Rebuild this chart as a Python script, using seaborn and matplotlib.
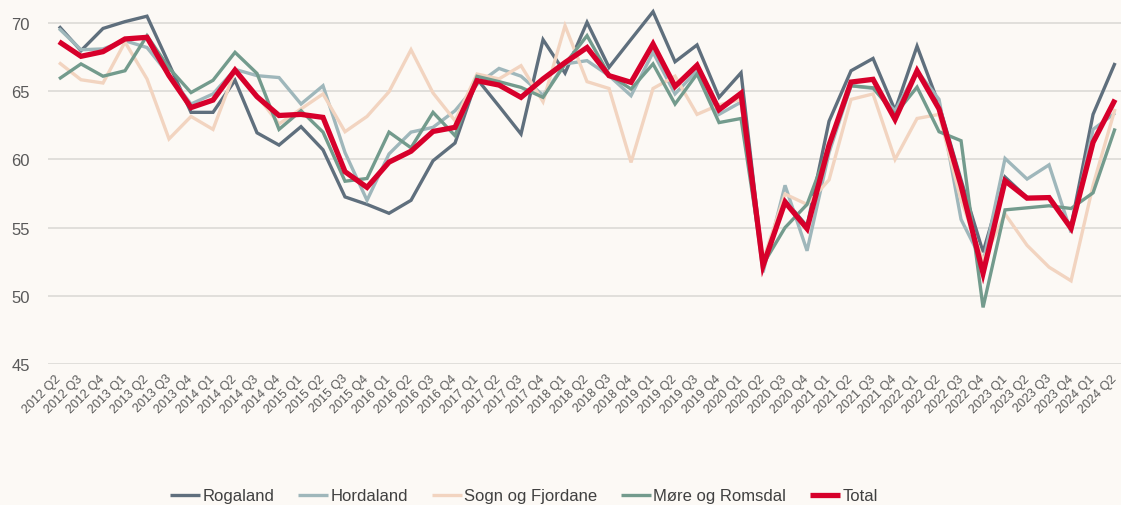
import matplotlib
matplotlib.use("Agg")
import matplotlib.pyplot as plt
import matplotlib.transforms as mtransforms
import seaborn as sns
import pandas as pd

quarters = [
    "2012 Q2", "2012 Q3", "2012 Q4",
    "2013 Q1", "2013 Q2", "2013 Q3", "2013 Q4",
    "2014 Q1", "2014 Q2", "2014 Q3", "2014 Q4",
    "2015 Q1", "2015 Q2", "2015 Q3", "2015 Q4",
    "2016 Q1", "2016 Q2", "2016 Q3", "2016 Q4",
    "2017 Q1", "2017 Q2", "2017 Q3", "2017 Q4",
    "2018 Q1", "2018 Q2", "2018 Q3", "2018 Q4",
    "2019 Q1", "2019 Q2", "2019 Q3", "2019 Q4",
    "2020 Q1", "2020 Q2", "2020 Q3", "2020 Q4",
    "2021 Q1", "2021 Q2", "2021 Q3", "2021 Q4",
    "2022 Q1", "2022 Q2", "2022 Q3", "2022 Q4",
    "2023 Q1", "2023 Q2", "2023 Q3", "2023 Q4",
    "2024 Q1", "2024 Q2",
]

rogaland = [69.76, 67.97, 69.6, 70.1, 70.5, 67.0, 63.45, 63.45, 65.8, 61.95,
            61.05, 62.4, 60.7, 57.25, 56.7, 56.05, 57.0, 59.9, 61.2, 65.9,
            63.9, 61.86, 68.78, 66.33, 70.05, 66.75, 68.8, 70.83, 67.16, 68.39,
            64.55, 66.35, 52.3, 57.0, 55.1, 62.8, 66.5, 67.4, 63.6, 68.3,
            64.0, 58.5, 53.2, 58.7, 57.2, 57.2, 55.1, 63.3, 67.07]

hordaland = [69.6, 68.04, 68.1, 68.7, 68.2, 66.2, 64.06, 64.8, 66.6, 66.14,
             66.0, 64.06, 65.4, 60.5, 57.0, 60.4, 62.0, 62.35, 63.57, 65.5,
             66.67, 66.1, 64.7, 67.0, 67.24, 66.14, 64.67, 67.85, 64.8, 66.5,
             63.3, 64.2, 51.72, 58.1, 53.3, 60.5, 65.4, 65.2, 63.57, 66.5,
             64.4, 55.6, 52.4, 60.07, 58.56, 59.6, 54.65, 62.2, 63.4]

sogn = [67.1, 65.84, 65.6, 68.6, 65.9, 61.5, 63.15, 62.2, 66.5, 64.67,
        62.6, 63.7, 64.8, 62.03, 63.15, 64.96, 68.04, 64.87, 62.84, 66.26,
        65.9, 66.87, 64.23, 69.8, 65.7, 65.2, 59.78, 65.2, 66.1, 63.3,
        64.0, 64.4, 52.6, 57.46, 56.7, 58.5, 64.4, 64.8, 60.0, 63.0,
        63.3, 57.0, 52.6, 56.0, 53.7, 52.1, 51.1, 58.1, 63.7]

more = [65.9, 67.0, 66.1, 66.5, 69.07, 66.7, 64.9, 65.8, 67.85, 66.3,
        62.2, 63.57, 62.0, 58.4, 58.6, 62.0, 60.85, 63.45, 61.74, 66.09,
        65.7, 65.28, 64.55, 67.0, 69.07, 66.2, 65.16, 67.0, 64.06, 66.26,
        62.7, 63.0, 52.3, 55.0, 56.7, 61.0, 65.4, 65.25, 63.3, 65.3,
        62.03, 61.37, 49.15, 56.3, 56.45, 56.6, 56.4, 57.55, 62.27]

total = [68.63, 67.56, 67.9, 68.83, 68.95, 66.14, 63.8, 64.35, 66.55, 64.6,
         63.22, 63.3, 63.08, 59.1, 57.95, 59.8, 60.6, 62.05, 62.35, 65.77,
         65.45, 64.55, 65.9, 67.1, 68.2, 66.14, 65.65, 68.46, 65.35, 66.9,
         63.64, 64.85, 52.2, 56.87, 54.92, 61.05, 65.67, 65.87, 62.93, 66.5,
         63.7, 58.07, 51.65, 58.43, 57.16, 57.2, 54.95, 61.25, 64.38]

series_names = ["Rogaland", "Hordaland", "Sogn og Fjordane", "Møre og Romsdal", "Total"]
series_values = [rogaland, hordaland, sogn, more, total]
colors = ["#5F6F7D", "#9FB7BB", "#F2D4C0", "#739B8D", "#D7002B"]
widths = [2.4, 2.4, 2.4, 2.4, 3.8]

bg = "#FCF9F5"
sns.set_theme(style="white")
plt.rcParams["font.family"] = ["Liberation Sans", "DejaVu Sans"]

fig = plt.figure(figsize=(11.21, 5.06), dpi=100, facecolor=bg)
ax = fig.add_axes([48 / 1121, 141 / 506, 1 - 48 / 1121, 1 - 141 / 506])
ax.set_facecolor(bg)

rows = []
for name, vals in zip(series_names, series_values):
    for i, v in enumerate(vals):
        rows.append({"idx": i, "value": v, "serie": name})
df = pd.DataFrame(rows)

for name, col, lw in zip(series_names, colors, widths):
    sns.lineplot(data=df[df["serie"] == name], x="idx", y="value", color=col,
                 linewidth=lw, ax=ax, label=name, sort=False,
                 solid_joinstyle="miter", solid_capstyle="butt")

ax.set_xlim(-0.5, 48.27)
ax.set_ylim(45, 71.76)
ax.set_yticks([45, 50, 55, 60, 65, 70])
ax.set_xticks(range(len(quarters)))
ax.set_xticklabels([""] * len(quarters))
# rotated quarter labels, nudged slightly left like the reference
lbl_trans = ax.get_xaxis_transform() + mtransforms.ScaledTranslation(-4 / 100, -8 / 100, fig.dpi_scale_trans)
for i, q in enumerate(quarters):
    ax.text(i, 0, q, transform=lbl_trans, rotation=45, ha="right", va="top",
            rotation_mode="anchor", fontsize=9, color="#595959", clip_on=False)
ax.tick_params(axis="x", length=0, pad=0)
ax.tick_params(axis="y", length=0, pad=13, labelsize=12, labelcolor="#595959")
ax.grid(axis="y", color="#DAD8D4", linewidth=1.1)
ax.grid(axis="x", visible=False)
ax.set_axisbelow(True)
for s in ax.spines.values():
    s.set_visible(False)
ax.set_xlabel("")
ax.set_ylabel("")

handles, labels = ax.get_legend_handles_labels()
ax.get_legend().remove()
leg = fig.legend(handles, labels, loc="center", bbox_to_anchor=(524 / 1121, 1 - 497 / 506),
                 ncol=5, frameon=False, fontsize=12, handlelength=1.8,
                 handletextpad=0.12, columnspacing=1.45, labelcolor="#404040")

fig.savefig("out.png", dpi=100, facecolor=bg)
